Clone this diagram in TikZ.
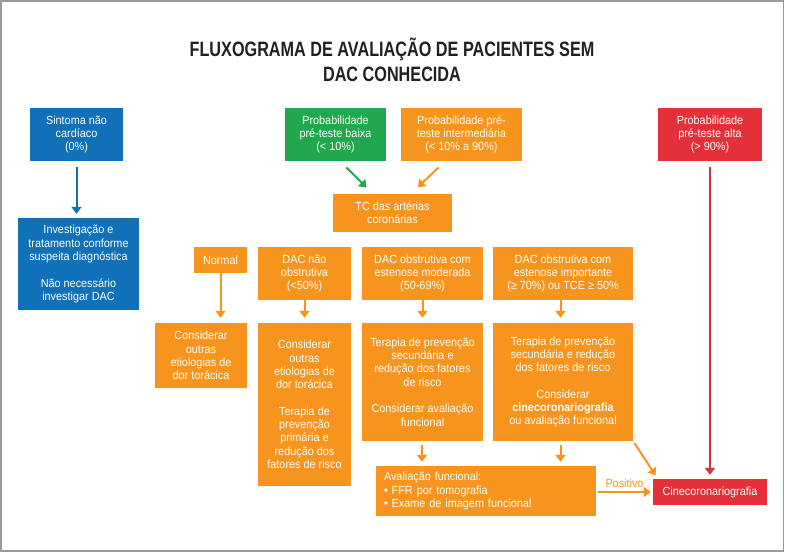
\documentclass[tikz,border=0pt]{standalone}
\usepackage{fontspec}
\setmainfont{Liberation Sans}
\newfontfamily\bodyfont[FakeStretch=0.92]{Liberation Sans}
\newfontfamily\titlefont[FakeStretch=0.78]{Liberation Sans}
\usetikzlibrary{arrows.meta,calc}
\definecolor{cblue}{HTML}{1070B8}
\definecolor{cgreen}{HTML}{22A84C}
\definecolor{corange}{HTML}{F7941D}
\definecolor{cred}{HTML}{E5303A}
\definecolor{cdred}{HTML}{CF3440}
\definecolor{ctitle}{HTML}{231F20}
\definecolor{cframe}{HTML}{9A9A9A}
\begin{document}
\begin{tikzpicture}[x=1pt,y=-1pt,
  box/.style={draw=none, fill=#1, text=white, inner sep=0pt, align=center,
    font=\bodyfont\fontsize{11.8}{13.3}\selectfont},
  arr/.style={line width=2pt, -{Triangle[width=10pt,length=7pt]}},
  lbl/.style={text=corange, font=\bodyfont\fontsize{11.8}{13.3}\selectfont, inner sep=1pt}]
\useasboundingbox (0,0) rectangle (785,552);
\draw[cframe, line width=1.3pt] (1,1) rectangle (783.5,551);

\node[text=ctitle, align=center, font=\titlefont\bfseries\fontsize{20.8}{25}\selectfont] (title) at (392,60)
  {FLUXOGRAMA DE AVALIAÇÃO DE PACIENTES SEM\\DAC CONHECIDA};

% top row
\node[box=cblue, minimum width=93pt, minimum height=53pt] (sint) at (76.5,134.5)
  {Sintoma não\\cardíaco\\(0\%)};
\node[box=cgreen, minimum width=101pt, minimum height=53pt] (baixa) at (335.5,134.5)
  {Probabilidade\\pré-teste baixa\\(< 10\%)};
\node[box=corange, minimum width=121pt, minimum height=53pt] (inter) at (461.5,134.5)
  {Probabilidade pré-\\teste intermediária\\(< 10\% a 90\%)};
\node[box=cred, minimum width=104pt, minimum height=53pt] (alta) at (710,134.5)
  {Probabilidade\\pré-teste alta\\(> 90\%)};

\node[box=cblue, minimum width=121pt, minimum height=92pt] (inv) at (78.5,264)
  {Investigação e\\tratamento conforme\\suspeita diagnóstica\\[13.3pt]Não necessário\\investigar DAC};

\node[box=corange, minimum width=119pt, minimum height=38pt] (tc) at (392.5,213)
  {TC das artérias\\coronárias};

% results row
\node[box=corange, minimum width=53pt, minimum height=26pt] (normal) at (220.5,260)
  {Normal};
\node[box=corange, minimum width=93pt, minimum height=53pt] (naoobs) at (304.5,273.5)
  {DAC não\\obstrutiva\\(<50\%)};
\node[box=corange, minimum width=121pt, minimum height=53pt] (mod) at (422.5,273.5)
  {DAC obstrutiva com\\estenose moderada\\(50-69\%)};
\node[box=corange, minimum width=140pt, minimum height=53pt] (imp) at (563,273.5)
  {DAC obstrutiva com\\estenose importante\\(≥ 70\%) ou TCE ≥ 50\%};

% management row
\node[box=corange, minimum width=92pt, minimum height=65pt] (cons1) at (201,355.5)
  {Considerar\\outras\\etiologias de\\dor torácica};
\node[box=corange, minimum width=93pt, minimum height=163pt] (cons2) at (304.5,404.5)
  {Considerar\\outras\\etiologias de\\dor torácica\\[13.3pt]Terapia de\\prevenção\\primária e\\redução dos\\fatores de risco};
\node[box=corange, minimum width=121pt, minimum height=118pt] (ter3) at (422.5,382)
  {Terapia de prevenção\\secundária e\\redução dos fatores\\de risco\\[13.3pt]Considerar avaliação\\funcional};
\node[box=corange, minimum width=140pt, minimum height=118pt] (ter4) at (563,382)
  {Terapia de prevenção\\secundária e redução\\dos fatores de risco\\[13.3pt]Considerar\\\textbf{cinecoronariografia}\\ou avaliação funcional};

% bottom row
\node[box=corange, minimum width=220pt, minimum height=50pt, text width=204pt, inner xsep=8pt, align=left] (aval) at (486,491)
  {Avaliação funcional:\\• FFR por tomografia\\• Exame de imagem funcional};
\node[box=cred, minimum width=114pt, minimum height=26pt] (cine) at (710,492)
  {Cinecoronariografia};

% connectors
\draw[arr, cblue, shorten <=5.5pt, shorten >=4pt] (sint.south) -- (sint.south |- inv.north);
\draw[arr, cgreen, shorten <=9pt, shorten >=9pt] ([xshift=4.5pt]baixa.south) -- ([xshift=-19.5pt]tc.north);
\draw[arr, corange, shorten <=9pt, shorten >=9.5pt] ([xshift=-16.5pt]inter.south) -- ([xshift=18.5pt]tc.north);
\draw[arr, cdred, shorten <=5.5pt, shorten >=4pt] (alta.south) -- (cine.north);

\draw[arr, corange, shorten >=5pt] (normal.south) -- (normal.south |- cons1.north);
\draw[arr, corange, shorten >=5pt] (naoobs.south) -- (naoobs.south |- cons2.north);
\draw[arr, corange, shorten >=5pt] (mod.south) -- (mod.south |- ter3.north);
\draw[arr, corange, shorten >=5pt] ([xshift=-2.5pt]imp.south) -- ([xshift=-2.5pt]imp.south |- ter4.north);

\draw[arr, corange, shorten <=4pt, shorten >=4pt] ([xshift=-0.5pt]ter3.south) -- ([xshift=-0.5pt]ter3.south |- aval.north);
\draw[arr, corange, shorten <=4pt, shorten >=4pt] ([xshift=-2.5pt]ter4.south) -- ([xshift=-2.5pt]ter4.south |- aval.north);
\draw[arr, corange, shorten <=2pt, shorten >=4pt] (ter4.south east) -- ([xshift=5pt]cine.north west);
\draw[arr, corange, shorten <=2pt, shorten >=2pt] (aval.east |- cine.west) -- (cine.west)
  node[lbl, midway, above=2pt] (pos) {Positivo};
\end{tikzpicture}
\end{document}
